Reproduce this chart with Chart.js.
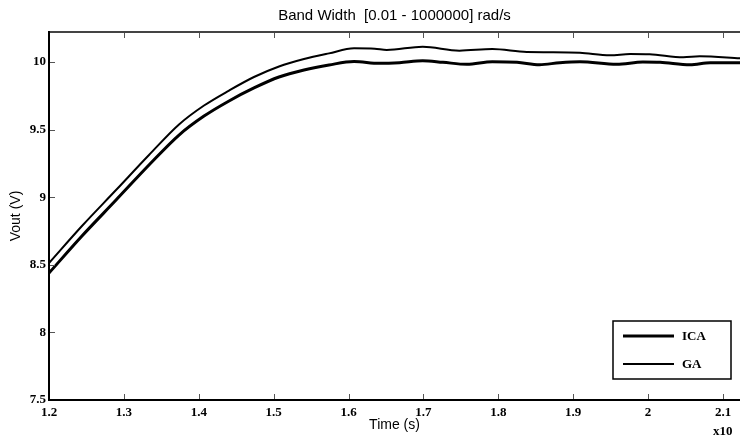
<!DOCTYPE html>
<html>
<head>
<meta charset="utf-8">
<script src="https://cdn.jsdelivr.net/npm/chart.js@4.4.1/dist/chart.umd.min.js"></script>
<style>
  html, body { margin: 0; padding: 0; background: #fff; }
  #wrap { width: 740px; height: 438px; position: relative; }
</style>
</head>
<body>
<div id="wrap"><canvas id="c" width="740" height="438"></canvas></div>
<script>
// ---- data ----
const chartTitle = "Band Width  [0.01 - 1000000] rad/s";
const xTitle = "Time (s)";
const yTitle = "Vout (V)";
const xExponentLabel = "x10";

const seriesNames = ["ICA", "GA"];

const timeICA = [1.2, 1.244, 1.2895, 1.3335, 1.3736, 1.407, 1.4404, 1.4737, 1.5071, 1.5405, 1.5739, 1.6073, 1.641, 1.668, 1.699, 1.726, 1.758, 1.792, 1.825, 1.855, 1.882, 1.909, 1.958, 1.993, 2.016, 2.056, 2.083, 2.123];
const voutICA = [8.439, 8.713, 8.979, 9.238, 9.46, 9.60, 9.712, 9.808, 9.889, 9.941, 9.978, 10.004, 9.99, 9.995, 10.01, 9.998, 9.983, 10.002, 9.998, 9.98, 9.995, 10.002, 9.983, 10.0, 9.998, 9.98, 9.995, 9.995];

const timeGA = [1.2, 1.244, 1.2895, 1.3335, 1.3736, 1.407, 1.4404, 1.4737, 1.5071, 1.5405, 1.5739, 1.6073, 1.635, 1.651, 1.699, 1.748, 1.792, 1.838, 1.869, 1.909, 1.949, 1.976, 2.002, 2.047, 2.069, 2.123];
const voutGA = [8.513, 8.787, 9.053, 9.312, 9.538, 9.678, 9.789, 9.889, 9.967, 10.022, 10.064, 10.101, 10.098, 10.089, 10.113, 10.084, 10.096, 10.074, 10.073, 10.069, 10.05, 10.059, 10.057, 10.035, 10.042, 10.027];

const xRange = [1.2, 2.1227];
const yRange = [7.5, 10.222];
const xStep = 0.1;
const yStep = 0.5;

// ---- build ----
const toPts = (xs, ys) => xs.map((x, i) => ({ x: x, y: ys[i] }));
const fmt = v => String(Math.round(v * 10) / 10);

const tickFont = { family: "'Liberation Serif', 'Times New Roman', serif", size: 13, weight: 'bold' };
const sansFont = "'Liberation Sans', Arial, sans-serif";

const framePlugin = {
  id: 'frame',
  afterDatasetsDraw(chart) {
    const ctx = chart.ctx;
    const a = chart.chartArea;
    const xs = chart.scales.x, ys = chart.scales.y;
    ctx.save();
    // tick marks (inward)
    ctx.strokeStyle = '#555';
    ctx.lineWidth = 1;
    xs.ticks.forEach(t => {
      const px = Math.round(xs.getPixelForValue(t.value)) + 0.5;
      ctx.beginPath();
      ctx.moveTo(px, a.bottom); ctx.lineTo(px, a.bottom - 6);
      ctx.moveTo(px, a.top); ctx.lineTo(px, a.top + 6);
      ctx.stroke();
    });
    ys.ticks.forEach(t => {
      const py = Math.round(ys.getPixelForValue(t.value)) + 0.5;
      ctx.beginPath();
      ctx.moveTo(a.left, py); ctx.lineTo(a.left + 6, py);
      ctx.stroke();
    });
    // frame
    ctx.lineWidth = 2;
    ctx.strokeStyle = '#444';
    ctx.beginPath(); ctx.moveTo(a.left, a.top); ctx.lineTo(a.right, a.top); ctx.stroke();
    ctx.strokeStyle = '#000';
    ctx.beginPath(); ctx.moveTo(a.left, a.top - 1); ctx.lineTo(a.left, a.bottom + 1); ctx.stroke();
    ctx.beginPath(); ctx.moveTo(a.left, a.bottom); ctx.lineTo(a.right, a.bottom); ctx.stroke();

    // legend box
    const bw = 118, bh = 58;
    const bx = a.right - 9 - bw, by = a.bottom - 21 - bh;
    ctx.fillStyle = '#fff';
    ctx.fillRect(bx, by, bw, bh);
    ctx.lineWidth = 1.5;
    ctx.strokeStyle = '#000';
    ctx.strokeRect(bx, by, bw, bh);
    chart.data.datasets.forEach((ds, i) => {
      const ly = by + 15 + i * 28;
      ctx.strokeStyle = ds.borderColor;
      ctx.lineWidth = ds.borderWidth;
      ctx.beginPath(); ctx.moveTo(bx + 10, ly); ctx.lineTo(bx + 61, ly); ctx.stroke();
      ctx.fillStyle = '#000';
      ctx.font = "bold 13px " + tickFont.family;
      ctx.textAlign = 'left';
      ctx.textBaseline = 'middle';
      ctx.fillText(ds.label, bx + 69, ly + 1);
    });

    // title centred over axes
    ctx.fillStyle = '#000';
    ctx.font = "15px " + sansFont;
    ctx.textAlign = 'center';
    ctx.textBaseline = 'middle';
    ctx.fillText(chartTitle, (a.left + a.right) / 2, 16);

    // exponent label
    ctx.font = "bold 13px " + tickFont.family;
    ctx.textAlign = 'left';
    ctx.fillText(xExponentLabel, 713, 432);
    ctx.restore();
  }
};

new Chart(document.getElementById('c'), {
  type: 'line',
  data: {
    datasets: [
      { label: seriesNames[0], data: toPts(timeICA, voutICA), borderColor: '#000', borderWidth: 3, pointRadius: 0, cubicInterpolationMode: 'monotone', fill: false },
      { label: seriesNames[1], data: toPts(timeGA, voutGA), borderColor: '#000', borderWidth: 2, pointRadius: 0, cubicInterpolationMode: 'monotone', fill: false }
    ]
  },
  options: {
    responsive: false,
    animation: false,
    layout: { padding: { top: 32, right: 0, left: 0, bottom: 0 } },
    plugins: { legend: { display: false }, title: { display: false }, tooltip: { enabled: false } },
    scales: {
      x: {
        type: 'linear', min: xRange[0], max: xRange[1],
        grid: { display: false, drawTicks: false },
        border: { display: false },
        ticks: { stepSize: xStep, includeBounds: false, autoSkip: false, maxRotation: 0, padding: 5, color: '#000', font: tickFont, callback: v => fmt(v) },
        title: { display: true, text: xTitle, color: '#000', font: { family: sansFont, size: 14 }, padding: { top: 0, bottom: 4 } },
        afterFit: s => { s.height = 38; }
      },
      y: {
        type: 'linear', min: yRange[0], max: yRange[1],
        grid: { display: false, drawTicks: false },
        border: { display: false },
        ticks: { stepSize: yStep, includeBounds: false, autoSkip: false, padding: 3, color: '#000', font: tickFont, callback: v => fmt(v) },
        title: { display: true, text: yTitle, color: '#000', font: { family: sansFont, size: 14 }, padding: { top: 8, bottom: 0 } },
        afterFit: s => { s.width = 49; }
      }
    }
  },
  plugins: [framePlugin]
});
</script>
</body>
</html>
